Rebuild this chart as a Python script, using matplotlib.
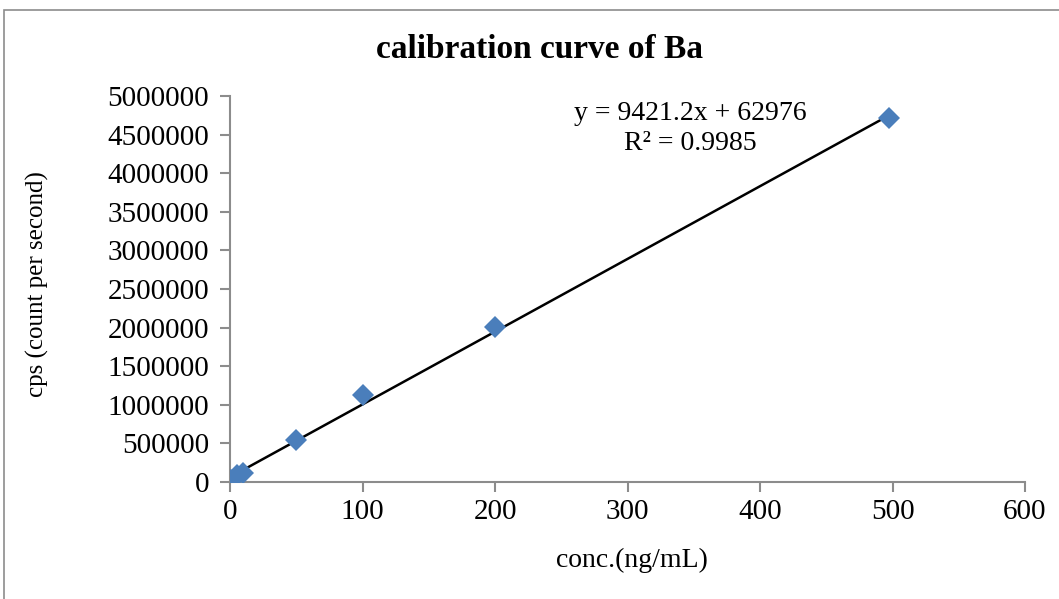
import matplotlib
matplotlib.use("Agg")
import matplotlib.pyplot as plt
from matplotlib.patches import Rectangle
import numpy as np

plt.rcParams['font.family'] = ['Liberation Serif', 'DejaVu Serif']

# calibration standards
conc = [0, 1, 5, 10, 50, 100, 200, 497.5]
cps = [5000, 20000, 95000, 120000, 544000, 1127000, 2008000, 4710000]

# linear trendline
slope = 9421.2
intercept = 62976
r_squared = 0.9985

x_ticks = [0, 100, 200, 300, 400, 500, 600]
y_ticks = list(range(0, 5000001, 500000))

fig = plt.figure(figsize=(10.59, 5.99), dpi=100)
fig.patch.set_facecolor('white')

# chart area border
fig.patches.append(Rectangle((4 / 1059, -0.1), 1.2, 1.1 - 10 / 599,
                             transform=fig.transFigure, fill=False,
                             edgecolor='#8c8c8c', linewidth=1.2))

ax = fig.add_axes([230 / 1059, 1 - 482 / 599, 795 / 1059, 386 / 599])

xfit = np.array([min(conc), max(conc)])
ax.plot(xfit, slope * xfit + intercept, color='black', linewidth=1.8, zorder=2)
ax.plot(conc, cps, linestyle='none', marker='D', markersize=11,
        color='#4a7ebb', markeredgewidth=0, zorder=3)

ax.set_xlim(0, 600)
ax.set_ylim(0, 5000000)
ax.set_xticks(x_ticks)
ax.set_yticks(y_ticks)
ax.set_xticklabels([str(v) for v in x_ticks])
ax.set_yticklabels([str(v) for v in y_ticks])

for side in ('top', 'right'):
    ax.spines[side].set_visible(False)
for side in ('left', 'bottom'):
    ax.spines[side].set_color('#8c8c8c')
    ax.spines[side].set_linewidth(1.5)
ax.tick_params(axis='both', colors='#8c8c8c', length=7, width=1.5,
               labelsize=21, labelcolor='black', direction='out')
ax.tick_params(axis='y', pad=8)
ax.tick_params(axis='x', pad=5)

fig.text(540 / 1059, 1 - 49 / 599, 'calibration curve of Ba', ha='center',
         va='center', fontsize=24, fontweight='bold')
fig.text(632 / 1059, 1 - 560 / 599, 'conc.(ng/mL)', ha='center',
         va='center', fontsize=20)
fig.text(37 / 1059, 1 - 284 / 599, 'cps (count per second)', ha='center',
         va='center', fontsize=18, rotation=90)

fig.text(690 / 1059, 1 - 113 / 599, f'y = {slope}x + {intercept}',
         ha='center', va='center', fontsize=20)
fig.text(690 / 1059, 1 - 144 / 599, f'R² = {r_squared}',
         ha='center', va='center', fontsize=20)

fig.savefig('out.png', dpi=100)
